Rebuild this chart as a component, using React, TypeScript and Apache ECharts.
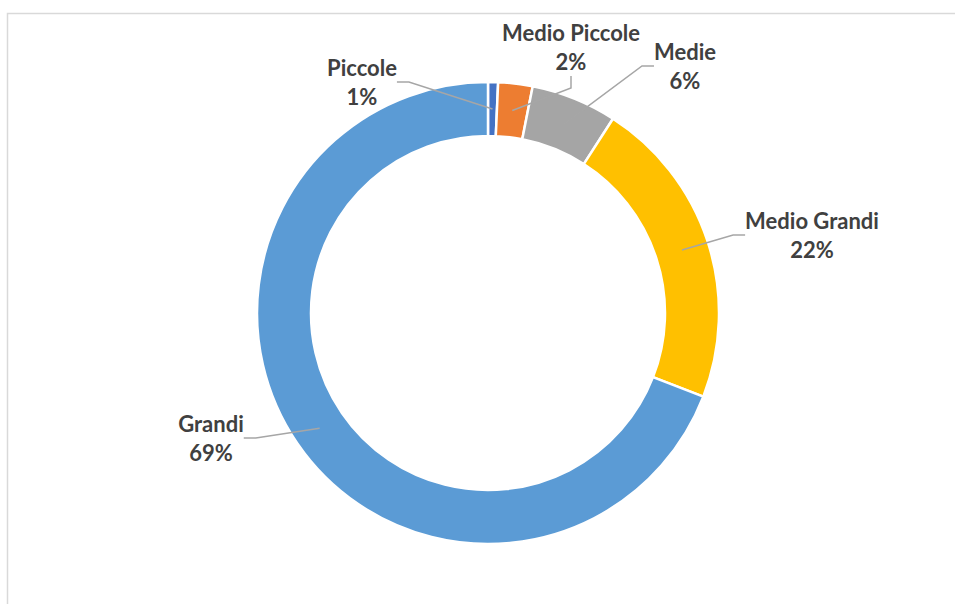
import React, { useEffect, useRef } from "react";
import * as echarts from "echarts";

const categories = ["Piccole", "Medio Piccole", "Medie", "Medio Grandi", "Grandi"];
const values = [0.7, 2.4, 6.0, 21.8, 69.1];
const colors = ["#4472C4", "#ED7D31", "#A5A5A5", "#FFC000", "#5B9BD5"];
// label centres (layout only)
const labelPos: [number, number][] = [
  [362, 82],
  [571, 47],
  [685, 66],
  [812, 235],
  [211, 438],
];

export default function App() {
  const ref = useRef<HTMLDivElement>(null);
  useEffect(() => {
    if (!ref.current) return;
    const chart = echarts.init(ref.current, undefined, { renderer: "svg" });
    const data = categories.map((name, i) => ({
      name,
      value: values[i],
      itemStyle: { color: colors[i] },
    }));
    const labelData = categories.map((name, i) => ({ name, value: values[i] }));
    chart.setOption({
      animation: false,
      backgroundColor: "#ffffff",
      graphic: [
        {
          type: "rect",
          shape: { x: 7.5, y: 13.5, width: 1200, height: 900 },
          style: { fill: "none", stroke: "#d9d9d9", lineWidth: 1.5 },
          silent: true,
        },
      ],
      series: [
        {
          type: "pie",
          center: [488, 313],
          radius: [177, 231],
          startAngle: 90,
          clockwise: true,
          data,
          itemStyle: { borderColor: "#ffffff", borderWidth: 2.5 },
          label: { show: false },
          labelLine: { show: false },
          silent: true,
        },
        {
          type: "pie",
          center: [488, 313],
          radius: [0, 204],
          startAngle: 90,
          clockwise: true,
          data: labelData,
          itemStyle: { color: "rgba(0,0,0,0)" },
          silent: true,
          z: 3,
          label: {
            show: true,
            position: "outside",
            formatter: (p: any) => `${p.name}\n${Math.round(p.percent)}%`,
            fontFamily: "Lato",
            fontWeight: "bold",
            fontSize: 22,
            lineHeight: 29,
            color: "#404040",
            align: "center",
          },
          labelLine: {
            show: true,
            length: 10,
            length2: 12,
            lineStyle: { color: "#A6A6A6", width: 1.5 },
          },
          labelLayout: (params: any) => {
            const pos = labelPos[params.dataIndex];
            return {
              x: pos[0],
              y: pos[1],
              align: "center",
              verticalAlign: "middle",
              hideOverlap: false,
            };
          },
        },
      ],
    });
    return () => chart.dispose();
  }, []);
  return (
    <div
      ref={ref}
      style={{ position: "absolute", left: 0, top: 0, width: 955, height: 604 }}
    />
  );
}
